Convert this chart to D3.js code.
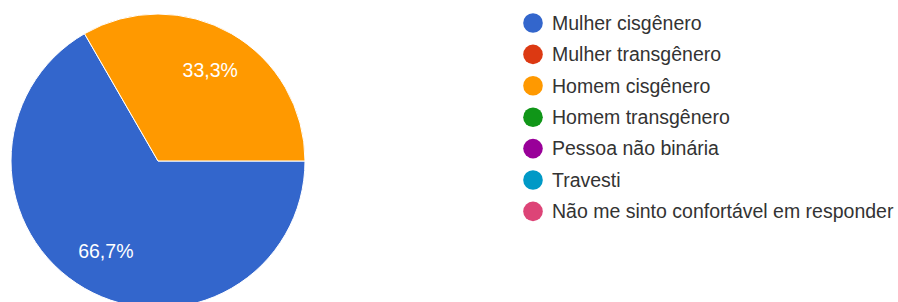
<!DOCTYPE html>
<html lang="pt">
<head>
<meta charset="UTF-8">
<script src="https://cdn.jsdelivr.net/npm/d3@7/dist/d3.min.js"></script>
<title>Pie</title>
<style>
  body { margin: 0; background: #fff; }
</style>
</head>
<body>
<script>
  var categories = ["Mulher cisgênero", "Mulher transgênero", "Homem cisgênero", "Homem transgênero", "Pessoa não binária", "Travesti", "Não me sinto confortável em responder"];
  var values = [2, 0, 1, 0, 0, 0, 0];
  var colors = ["#3366cc", "#dc3912", "#ff9900", "#109618", "#990099", "#0099c6", "#dd4477"];

  var width = 898, height = 302;
  var cx = 158, cy = 161, radius = 147;

  var svg = d3.select("body").append("svg").attr("width", width).attr("height", height);

  var color = d3.scaleOrdinal().domain(categories).range(colors);
  var total = d3.sum(values);

  var pie = d3.pie().sort(null).value(function (d) { return d.v; })
    .startAngle(Math.PI / 2).endAngle(Math.PI / 2 + 2 * Math.PI);
  var data = categories.map(function (c, i) { return { c: c, v: values[i] }; });
  var arcs = pie(data).filter(function (d) { return d.data.v > 0; });

  var arc = d3.arc().innerRadius(0).outerRadius(radius);
  var labelArc = d3.arc().innerRadius(radius * 0.71).outerRadius(radius * 0.71);

  var g = svg.append("g").attr("transform", "translate(" + cx + "," + cy + ")");
  g.selectAll("path").data(arcs).enter().append("path")
    .attr("d", arc)
    .attr("fill", function (d) { return color(d.data.c); })
    .attr("stroke", "#fff").attr("stroke-width", 1);

  g.selectAll("text").data(arcs).enter().append("text")
    .attr("transform", function (d) { return "translate(" + labelArc.centroid(d) + ")"; })
    .attr("text-anchor", "middle").attr("dy", "0.35em")
    .style("font-family", "Liberation Sans, Arial, sans-serif").style("font-size", "19.5px")
    .attr("fill", "#fff")
    .text(function (d) { return (d.data.v / total * 100).toFixed(1).replace(".", ",") + "%"; });

  var legend = svg.append("g").attr("transform", "translate(533,23)");
  var rows = legend.selectAll("g").data(categories).enter().append("g")
    .attr("transform", function (d, i) { return "translate(0," + (i * 31.4) + ")"; });
  rows.append("circle").attr("r", 9.8).attr("fill", function (d) { return color(d); });
  rows.append("text").attr("x", 19).attr("dy", "0.35em")
    .style("font-family", "Liberation Sans, Arial, sans-serif").style("font-size", "19.5px")
    .attr("fill", "#333")
    .text(function (d) { return d; });
</script>
</body>
</html>
